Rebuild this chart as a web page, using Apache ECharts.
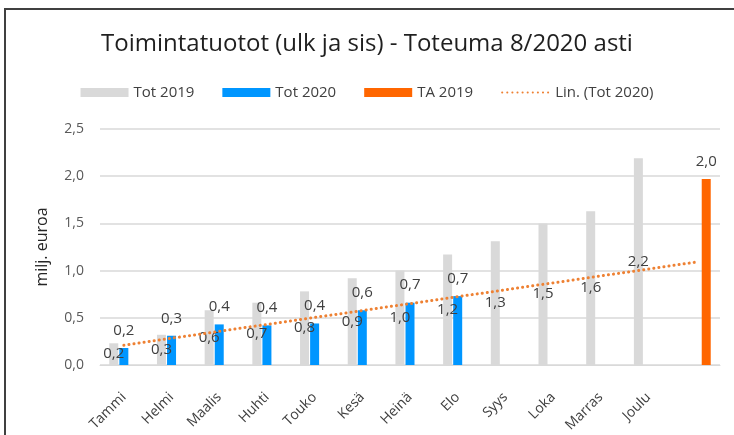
<!DOCTYPE html>
<html>
<head>
<meta charset="utf-8">
<script src="https://cdn.jsdelivr.net/npm/echarts@6/dist/echarts.min.js"></script>
<style>
  html, body { margin: 0; padding: 0; background: #fff; }
  #chart { width: 734px; height: 435px; }
</style>
</head>
<body>
<div id="chart"></div>
<script>
const months = ['Tammi', 'Helmi', 'Maalis', 'Huhti', 'Touko', 'Kesä', 'Heinä', 'Elo', 'Syys', 'Loka', 'Marras', 'Joulu', ''];
const tot2019 = [0.23, 0.32, 0.58, 0.66, 0.78, 0.92, 1.00, 1.17, 1.31, 1.50, 1.63, 2.19, null];
const tot2020 = [0.18, 0.31, 0.43, 0.42, 0.44, 0.58, 0.66, 0.73, null, null, null, null, null];
const ta2019 = [null, null, null, null, null, null, null, null, null, null, null, null, 1.97];
// trendline end points (Tammi .. last slot)
const trend = [0.21, null, null, null, null, null, null, null, null, null, null, null, 1.09];
const yTicks = ['0,0', '0,5', '1,0', '1,5', '2,0', '2,5'];

const font = '"Open Sans", sans-serif';
const fmt = (p) => p.value == null ? '' : p.value.toFixed(1).replace('.', ',');

const chart = echarts.init(document.getElementById('chart'));
chart.setOption({
  animation: false,
  textStyle: { fontFamily: font },
  title: {
    text: 'Toimintatuotot (ulk ja sis) - Toteuma 8/2020 asti',
    left: 'center',
    top: 27,
    textStyle: { fontFamily: font, fontSize: 24, fontWeight: 'normal', color: '#1f1f1f' }
  },
  legend: {
    top: 80,
    left: 'center',
    itemWidth: 48,
    itemHeight: 9,
    itemGap: 28,
    textStyle: { fontFamily: font, fontSize: 15, color: '#404040' },
    data: [
      { name: 'Tot 2019', icon: 'rect' },
      { name: 'Tot 2020', icon: 'rect' },
      { name: 'TA 2019', icon: 'rect' },
      { name: 'Lin. (Tot 2020)', itemStyle: { opacity: 0 } }
    ]
  },
  graphic: [{
    type: 'rect',
    shape: { x: 5, y: 9, width: 760, height: 460 },
    style: { fill: 'none', stroke: '#404040', lineWidth: 2 },
    silent: true
  }],
  grid: { left: 100, right: 14, top: 129, bottom: 70, containLabel: false },
  xAxis: {
    type: 'category',
    data: months,
    axisLine: { lineStyle: { color: '#d9d9d9', width: 1 } },
    axisTick: { show: false },
    axisLabel: { rotate: 45, margin: 30, fontSize: 14, color: '#404040', fontFamily: font, interval: 0 }
  },
  yAxis: {
    type: 'value',
    min: 0,
    max: 2.5,
    interval: 0.5,
    name: 'milj. euroa',
    nameLocation: 'middle',
    nameGap: 50,
    nameTextStyle: { fontSize: 16, color: '#262626', fontFamily: font },
    axisLine: { show: false },
    axisTick: { show: false },
    axisLabel: {
      margin: 16, fontSize: 14, color: '#595959', fontFamily: font,
      formatter: (v) => yTicks[Math.round(v / 0.5)]
    },
    splitLine: { lineStyle: { color: '#d9d9d9', width: 1.5 } }
  },
  series: [
    {
      name: 'Tot 2019', type: 'bar', data: tot2019, barWidth: 9, barGap: '12%',
      itemStyle: { color: '#d9d9d9' },
      label: { show: true, position: 'inside', formatter: fmt, fontSize: 15, color: '#404040' }
    },
    {
      name: 'Tot 2020', type: 'bar', data: tot2020, barWidth: 9, barGap: '12%',
      itemStyle: { color: '#0096ff' },
      label: { show: true, position: 'top', distance: 10, formatter: fmt, fontSize: 15, color: '#404040' }
    },
    {
      name: 'TA 2019', type: 'bar', data: ta2019, barWidth: 9, barGap: '12%',
      itemStyle: { color: '#ff6600' },
      label: { show: true, position: 'top', distance: 10, formatter: fmt, fontSize: 15, color: '#404040' }
    },
    {
      name: 'Lin. (Tot 2020)', type: 'line', data: trend, connectNulls: true,
      symbol: 'none', z: 5,
      itemStyle: { color: '#ee8133' },
      lineStyle: { color: '#ee8133', width: 3, type: [0.1, 5], cap: 'round' }
    }
  ]
});
</script>
</body>
</html>
